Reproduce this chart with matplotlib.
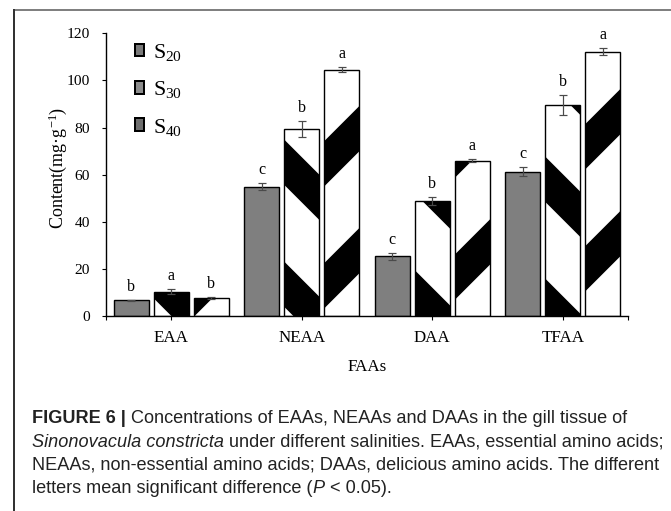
import matplotlib
matplotlib.use('Agg')
import matplotlib.pyplot as plt
import matplotlib.patches as mpatches
from matplotlib.lines import Line2D
import numpy as np

# ---------------- data ----------------
categories = ['EAA', 'NEAA', 'DAA', 'TFAA']
series_labels = [r'$\mathrm{S}_{20}$', r'$\mathrm{S}_{30}$', r'$\mathrm{S}_{40}$']
s20 = [6.6, 54.8, 25.4, 61.3]
s30 = [10.3, 79.5, 48.8, 89.5]
s40 = [7.7, 104.6, 66.0, 112.2]
s20_err = [0.3, 1.5, 1.5, 1.8]
s30_err = [1.1, 3.4, 1.8, 4.2]
s40_err = [0.5, 1.0, 0.5, 1.6]
s20_letters = ['b', 'c', 'c', 'c']
s30_letters = ['a', 'b', 'b', 'b']
s40_letters = ['b', 'a', 'a', 'a']
yticks = [0, 20, 40, 60, 80, 100, 120]
x_label = 'FAAs'
y_label = r'Content(mg·g$^{-1}$)'
caption_lines = [
    [('FIGURE 6 |', 'bold', 'normal'),
     (' Concentrations of EAAs, NEAAs and DAAs in the gill tissue of', 'normal', 'normal')],
    [('Sinonovacula constricta', 'normal', 'italic'),
     (' under different salinities. EAAs, essential amino acids;', 'normal', 'normal')],
    [('NEAAs, non-essential amino acids; DAAs, delicious amino acids. The different', 'normal', 'normal')],
    [('letters mean significant difference (', 'normal', 'normal'),
     ('P', 'normal', 'italic'),
     (' < 0.05).', 'normal', 'normal')],
]

# ---------------- setup ----------------
W, H = 671, 511
DPI = 366            # hatch tile = DPI px -> coarse stripes like the reference
PX = 72.0 / DPI      # points per pixel

plt.rcParams['font.family'] = ['Liberation Serif', 'DejaVu Serif']
plt.rcParams['mathtext.fontset'] = 'custom'
plt.rcParams['mathtext.rm'] = 'Liberation Serif'
plt.rcParams['mathtext.it'] = 'Liberation Serif:italic'
plt.rcParams['mathtext.bf'] = 'Liberation Serif:bold'
plt.rcParams['hatch.linewidth'] = 32 * PX
plt.rcParams['hatch.color'] = 'black'

fig = plt.figure(figsize=(W / DPI, H / DPI), dpi=DPI)
fig.patch.set_facecolor('white')

ax_left, ax_right, ax_bottom, ax_top = 106, 628, 316, 33.3
ax = fig.add_axes([ax_left / W, 1 - ax_bottom / H,
                   (ax_right - ax_left) / W, (ax_bottom - ax_top) / H])

x = np.arange(len(categories))
width = 0.268
offsets = [-0.307, 0.0, 0.307]
vals = [s20, s30, s40]
errs = [s20_err, s30_err, s40_err]
letters = [s20_letters, s30_letters, s40_letters]
faces = ['#7f7f7f', 'white', 'white']
hatches = [None, '\\', '/']

for i in range(3):
    ax.bar(x + offsets[i], vals[i], width, color=faces[i], edgecolor='black',
           linewidth=1.4 * PX, hatch=hatches[i], yerr=errs[i],
           error_kw=dict(ecolor='#4a4a4a', elinewidth=1.2 * PX,
                         capsize=4 * PX, capthick=1.2 * PX), zorder=2)
    for xi, v, e, L in zip(x + offsets[i], vals[i], errs[i], letters[i]):
        ax.text(xi, v + e + 3.8, L, ha='center', va='baseline',
                fontsize=16 * PX, color='black')

ax.set_xlim(-0.5, 3.5)
ax.set_ylim(0, 120)
ax.set_yticks(yticks)
ax.set_xticks(x)
ax.set_xticklabels(categories)
ax.set_xticks([-0.5, 3.5], minor=True)
for s in ['top', 'right']:
    ax.spines[s].set_visible(False)
for s in ['left', 'bottom']:
    ax.spines[s].set_linewidth(1.4 * PX)
    ax.spines[s].set_color('black')
ax.tick_params(axis='both', which='both', direction='out', length=4 * PX,
               width=1.1 * PX, color='black')
ax.tick_params(axis='x', labelsize=17 * PX, pad=10 * PX)
ax.tick_params(axis='y', labelsize=15.5 * PX, pad=12 * PX)

# legend
handles = [mpatches.Patch(facecolor='#7a7a7a', edgecolor='black', linewidth=2 * PX),
           mpatches.Patch(facecolor='#8c8c8c', edgecolor='black', linewidth=2 * PX),
           mpatches.Patch(facecolor='#6e6e6e', edgecolor='black', linewidth=2 * PX)]
ax.legend(handles, series_labels, loc='upper left',
          bbox_to_anchor=(135 / W, 1 - 42 / H), bbox_transform=fig.transFigure,
          frameon=False, fontsize=22 * PX, handlelength=0.42, handleheight=0.5,
          handletextpad=0.42, labelspacing=0.74, borderpad=0, borderaxespad=0)

# axis labels
fig.text(58 / W, 1 - 168 / H, y_label, rotation=90, ha='center', va='center',
         fontsize=18 * PX)
fig.text(367 / W, 1 - 367 / H, x_label, ha='center', va='center', fontsize=17 * PX)

# frame lines
fig.add_artist(Line2D([14 / W, 1], [1 - 10 / H, 1 - 10 / H], transform=fig.transFigure,
                      color='#808080', lw=2 * PX))
fig.add_artist(Line2D([14 / W, 14 / W], [0, 1 - 10 / H], transform=fig.transFigure,
                      color='#333333', lw=2 * PX))

# caption
CAP_FONT = ['Liberation Sans', 'DejaVu Sans']
renderer = fig.canvas.get_renderer()


def text_width(s, size, weight='normal', style='normal'):
    t1 = fig.text(0, 0, s + '|', fontsize=size, family=CAP_FONT, weight=weight, style=style)
    t2 = fig.text(0, 0, '|', fontsize=size, family=CAP_FONT, weight=weight, style=style)
    w = t1.get_window_extent(renderer).width - t2.get_window_extent(renderer).width
    t1.remove()
    t2.remove()
    return w


base = 15 * PX
w3 = sum(text_width(s, base, wt, st) for s, wt, st in caption_lines[2])
cap_size = base * 624.0 / w3
baselines = [423.3, 446.7, 470.0, 493.3]
for line, yb in zip(caption_lines, baselines):
    xp = 32.0
    for s, wt, st in line:
        fig.text(xp / W, 1 - yb / H, s, ha='left', va='baseline', fontsize=cap_size,
                 family=CAP_FONT, weight=wt, style=st, color='#222222')
        xp += text_width(s, cap_size, wt, st)

fig.savefig('out.png', dpi=DPI, facecolor='white')
